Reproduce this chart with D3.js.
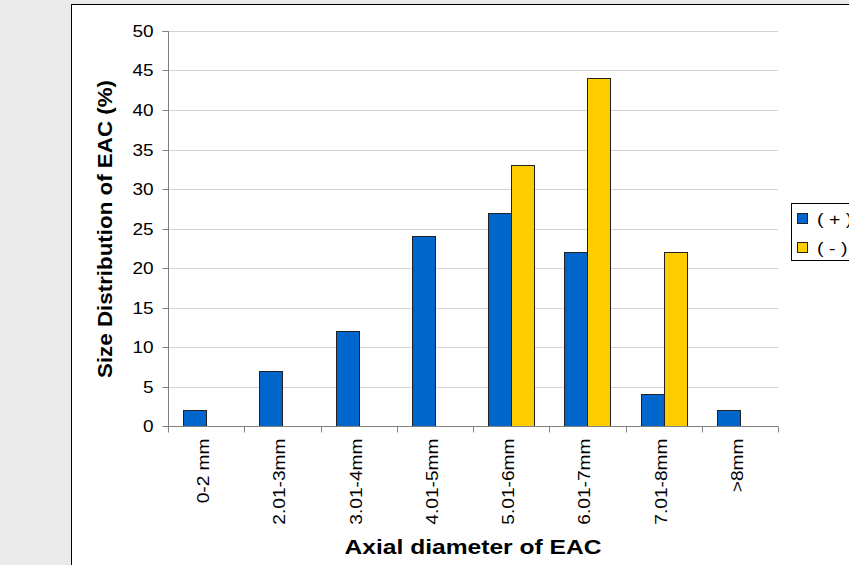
<!DOCTYPE html>
<html><head><meta charset="utf-8">
<script src="https://cdn.jsdelivr.net/npm/d3@7"></script>
<style>body{margin:0;background:#ebebeb;}svg{display:block;}</style>
</head><body>
<svg id="c" width="849" height="565"></svg>
<script>
const categories = ["0-2 mm","2.01-3mm","3.01-4mm","4.01-5mm","5.01-6mm","6.01-7mm","7.01-8mm",">8mm"];
const seriesNames = ["( + )","( - )"];
const positive = [2,7,12,24,27,22,4,2];
const negative = [0,0,0,0,33,44,22,0];
const yTicks = [0,5,10,15,20,25,30,35,40,45,50];
const colors = ["#0066cc","#ffcc00"];

const FONT = "Arial, 'Liberation Sans', sans-serif";
const STRETCH = 1.15;
const svg = d3.select("#c");
svg.append("rect").attr("x",0).attr("y",0).attr("width",849).attr("height",565).attr("fill","#ebebeb");
svg.append("rect").attr("x",71.5).attr("y",4.5).attr("width",800).attr("height",600).attr("fill","#fff").attr("stroke","#000").attr("stroke-width",1);

const pL=168, pR=778, pT=31, pB=426;
const x = d3.scaleBand().domain(categories).range([pL,pR]).paddingInner(0).paddingOuter(0);
const y = d3.scaleLinear().domain([0,50]).range([pB,pT]);
const inner = d3.scaleBand().domain([0,1]).range([0,46]);

function stretch(sel, k){
  sel.each(function(){
    const L = this.getComputedTextLength();
    d3.select(this).attr("textLength", L*k).attr("lengthAdjust","spacingAndGlyphs");
  });
}

// gridlines
svg.append("g").selectAll("line").data(yTicks.filter(d=>d>0)).join("line")
  .attr("x1",pL).attr("x2",pR).attr("y1",d=>Math.round(y(d))+0.5).attr("y2",d=>Math.round(y(d))+0.5)
  .attr("stroke","#d4d4d4").attr("stroke-width",1);

// bars
const data = categories.map((c,i)=>({c, vals:[positive[i],negative[i]]}));
const g = svg.append("g");
data.forEach(d=>{
  d.vals.forEach((v,j)=>{
    if(v<=0) return;
    const bx = x(d.c)+x.bandwidth()/2-23+inner(j);
    g.append("rect").attr("x",Math.round(bx)+0.5).attr("y",Math.round(y(v))+0.5)
      .attr("width",23).attr("height",Math.round(y(0))-Math.round(y(v)))
      .attr("fill",colors[j]).attr("stroke","#222").attr("stroke-width",1);
  });
});

// y axis
const ya = svg.append("g").attr("transform",`translate(${pL+0.5},0)`)
  .call(d3.axisLeft(y).tickValues(yTicks).tickSize(6).tickPadding(9));
ya.select(".domain").attr("stroke","#808080").attr("d",`M-6,${pT+0.5}H0V${pB}`);
ya.selectAll(".tick line").attr("stroke","#808080");
ya.selectAll(".tick text").attr("font-family",FONT).attr("font-size",16.5).attr("fill","#000").attr("dy","0.36em");
ya.selectAll(".tick").attr("transform",d=>`translate(0,${Math.round(y(d))+0.5})`);
stretch(ya.selectAll(".tick text"), STRETCH);

// x axis
const xa = svg.append("g").attr("transform",`translate(0,${pB+0.5})`);
xa.append("line").attr("x1",pL).attr("x2",pR).attr("stroke","#808080");
const bounds = categories.map(c=>x(c)).concat([pR]);
xa.selectAll("line.t").data(bounds).join("line").attr("class","t")
  .attr("x1",d=>Math.round(d)+0.5).attr("x2",d=>Math.round(d)+0.5).attr("y1",0).attr("y2",6).attr("stroke","#808080");
const xt = xa.selectAll("text").data(categories).join("text")
  .attr("transform",d=>`translate(${x(d)+x.bandwidth()/2+3},12) rotate(-90)`)
  .attr("text-anchor","end").attr("font-family",FONT).attr("font-size",16.5).text(d=>d);
stretch(xt, 1.16);

// axis titles
const yt = svg.append("text").attr("transform","translate(112,229) rotate(-90)").attr("text-anchor","middle")
  .attr("font-family",FONT).attr("font-weight","bold").attr("font-size",21).text("Size Distribution of EAC (%)");
yt.attr("textLength",298).attr("lengthAdjust","spacingAndGlyphs");
const xtl = svg.append("text").attr("x",473).attr("y",554).attr("text-anchor","middle")
  .attr("font-family",FONT).attr("font-weight","bold").attr("font-size",21).text("Axial diameter of EAC");
xtl.attr("textLength",257).attr("lengthAdjust","spacingAndGlyphs");

// legend
const lg = svg.append("g");
lg.append("rect").attr("x",791.5).attr("y",203.5).attr("width",80).attr("height",57).attr("fill","#fff").attr("stroke","#000");
seriesNames.forEach((n,i)=>{
  lg.append("rect").attr("x",797.5).attr("y",213.5+i*29).attr("width",10).attr("height",10).attr("fill",colors[i]).attr("stroke","#222");
  const t = lg.append("text").attr("x",817).attr("y",225+i*29).attr("font-family",FONT).attr("font-size",17).text(n);
  stretch(t, STRETCH);
});
</script>
</body></html>
